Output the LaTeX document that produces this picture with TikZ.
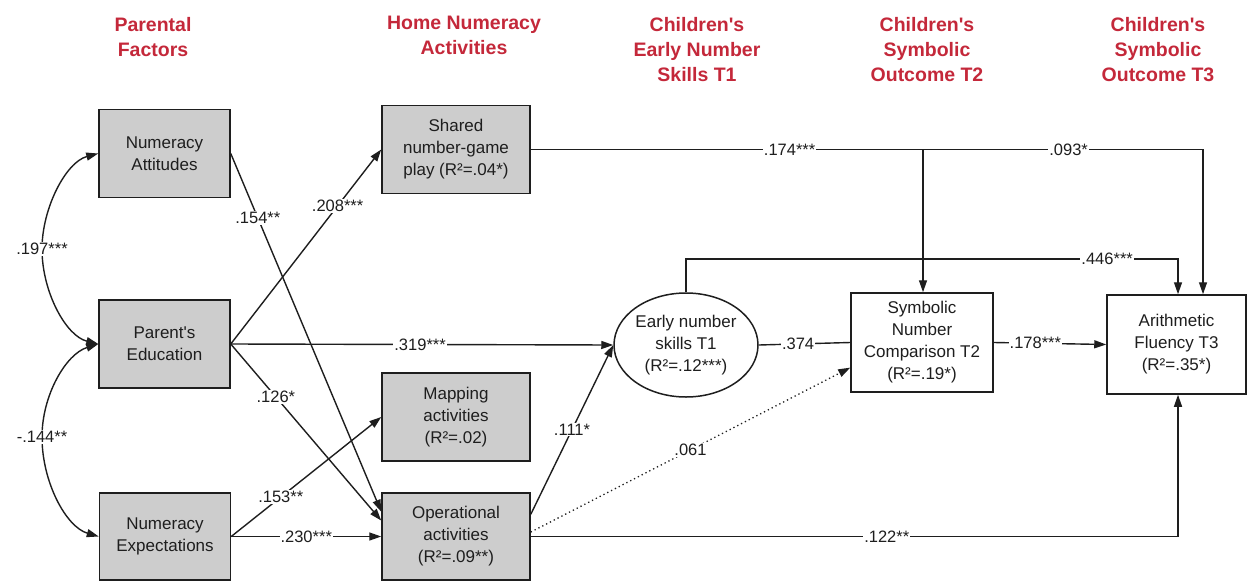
\documentclass[tikz,border=0pt]{standalone}
\usepackage{fontspec}
\setmainfont{Liberation Sans}
\usetikzlibrary{arrows.meta,shapes.geometric,calc}
\definecolor{hdr}{RGB}{196,40,58}
\definecolor{boxgray}{RGB}{205,205,205}
\definecolor{ink}{RGB}{30,30,30}
\newcommand{\apos}{\textquotesingle}
\begin{document}
\begin{tikzpicture}[x=1pt,y=-1pt,
  every node/.style={font=\fontsize{17}{22}\selectfont, text=ink},
  gbox/.style={draw=ink, line width=1.5pt, fill=boxgray, minimum width=131pt, minimum height=88pt, align=center, inner sep=2pt},
  wbox/.style={draw=ink, line width=1.5pt, fill=white, align=center, inner sep=2pt},
  ebox/.style={ellipse, draw=ink, line width=1.5pt, fill=white, minimum width=144pt, minimum height=104pt, inner sep=0pt, align=center},
  hdrtxt/.style={font=\fontsize{19.5}{25}\selectfont\bfseries, text=hdr, align=center},
  lbl/.style={fill=white, inner sep=1pt, font=\fontsize{16.5}{18}\selectfont},
  conn/.style={draw=ink, line width=1.4pt},
  arr/.style={conn, -{Triangle[length=12pt,width=8pt]}},
  biarr/.style={conn, {Triangle[length=12pt,width=8pt]}-{Triangle[length=12pt,width=8pt]}},
  dotarr/.style={draw=ink, line width=1.3pt, dash pattern=on 1.3pt off 3pt, -{Triangle[length=12pt,width=8pt]}}
]
\useasboundingbox (0,0) rectangle (1248,581);

% headers
\node[hdrtxt] (h1) at (153,37.5) {Parental\\Factors};
\node[hdrtxt] (h2) at (464,35) {Home Numeracy\\Activities};
\node[hdrtxt] (h3) at (697,50) {Children\apos s\\Early Number\\Skills T1};
\node[hdrtxt] (h4) at (927,50) {Children\apos s\\Symbolic\\Outcome T2};
\node[hdrtxt] (h5) at (1158,50) {Children\apos s\\Symbolic\\Outcome T3};

% boxes
\node[gbox] (NA) at (164.5,153.5) {Numeracy\\Attitudes};
\node[gbox] (PE) at (164.5,344) {Parent\apos s\\Education};
\node[gbox, minimum height=87pt] (NE) at (165,536.5) {Numeracy\\Expectations};
\node[gbox, minimum width=148pt] (SG) at (456,149.5) {Shared\\number-game\\play (R²=.04*)};
\node[gbox, minimum width=148pt] (MA) at (456,417) {Mapping\\activities\\(R²=.02)};
\node[gbox, minimum width=148pt, minimum height=87pt] (OA) at (456,536.5) {Operational\\activities\\(R²=.09**)};
\node[ebox] (EN) at (686,345) {Early number\\skills T1\\(R²=.12***)};
\node[wbox, minimum width=142pt, minimum height=99pt] (SN) at (922,342.5) {Symbolic\\Number\\Comparison T2\\(R²=.19*)};
\node[wbox, minimum width=139pt, minimum height=99pt] (AF) at (1176.5,344.5) {Arithmetic\\Fluency T3\\(R²=.35*)};

% helper coordinates
\coordinate (c197) at (42,249);
\coordinate (c144) at (42,437);
\coordinate (j1) at (923,149.5);
\coordinate (t093) at (1203,149.5);
\coordinate (t446a) at (686,259);
\coordinate (t446) at (1178,259);
\coordinate (t122) at (1178,536.5);
\coordinate (oaA) at ($(OA.north west)!0.22!(OA.south west)$);
\coordinate (oaB) at ($(OA.north west)!0.32!(OA.south west)$);
\coordinate (oaR1) at ($(OA.north east)!0.25!(OA.south east)$);
\coordinate (oaR2) at ($(OA.north east)!0.45!(OA.south east)$);
\coordinate (snL) at ($(SN.north west)!0.75!(SN.south west)$);

% correlations
\draw[biarr] (NA.west) .. controls (66,162) and (42,208) .. (c197) .. controls (42,292) and (66,336) .. (PE.west);
\node[lbl] (l197) at (c197) {.197***};
\draw[biarr] (PE.west) .. controls (66,354) and (42,395) .. (c144) .. controls (42,482) and (66,527) .. (NE.west);
\node[lbl] (l144) at (c144) {-.144**};

% parental factors -> activities
\draw[arr] (PE.east) -- node[lbl,pos=0.71] {.208***} (SG.west);
\draw[arr] (NA.east) -- node[lbl,pos=0.18] {.154**} (oaA);
\draw[arr] (PE.east) -- node[lbl,pos=0.3] {.126*} (oaB);
\draw[arr] (NE.east) -- node[lbl,pos=0.33] {.153**} (MA.west);
\draw[arr] (NE.east) -- node[lbl,pos=0.5] {.230***} (OA.west);
\draw[arr] (PE.east) -- node[lbl,pos=0.495] {.319***} (EN.west);

% activities -> outcomes
\draw[arr] (oaR1) -- node[lbl,pos=0.5] {.111*} (EN.west);
\draw[dotarr] (oaR2) -- node[lbl,pos=0.5] {.061} (snL);
\draw[arr] (OA.east) -- node[lbl,pos=0.55] {.122**} (t122) -- (t122 |- AF.south);
\draw[arr] (SG.east) -- node[lbl,pos=0.66] {.174***} (j1) -- (j1 |- SN.north);
\draw[arr] (j1) -- node[lbl,pos=0.52] {.093*} (t093) -- (t093 |- AF.north);

% child outcomes
\draw[arr] (EN.north) -- (t446a) -- node[lbl,pos=0.856] {.446***} (t446) -- (t446 |- AF.north);
\draw[conn] (EN.east) -- node[lbl,pos=0.43] {.374} (SN.west);
\draw[arr] (SN.east) -- node[lbl,pos=0.37] {.178***} (AF.west);
\end{tikzpicture}
\end{document}
